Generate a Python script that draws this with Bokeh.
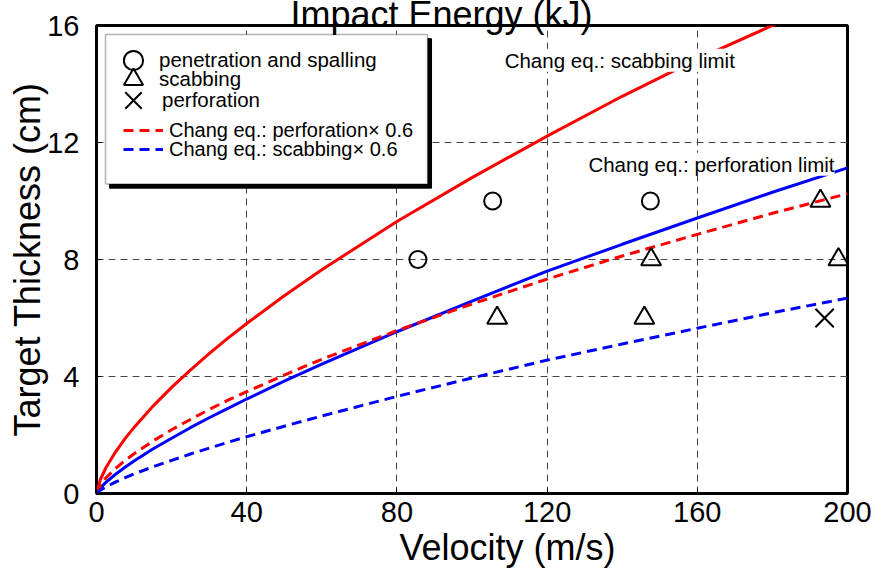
from bokeh.plotting import figure
from bokeh.models import (Range1d, SingleIntervalTicker, Legend, LegendItem,
                          Label, BoxAnnotation, ColumnDataSource, Title)
from bokeh.embed import file_html
from bokeh.resources import INLINE

# ---- data ----
velocity = [0, 1, 2.5, 5, 7.5, 10, 15, 20, 25, 30, 35, 40, 50, 60, 80, 100, 120, 140, 160, 180, 200]
scabbing_limit = [0, 0.47, 0.88, 1.41, 1.86, 2.26, 2.98, 3.63, 4.22, 4.78, 5.31, 5.81, 6.76, 7.65, 9.30, 10.80, 12.22, 13.58, 14.85, 16.0, 17.1]
scab_x06 = [0, 0.28, 0.53, 0.85, 1.12, 1.36, 1.79, 2.18, 2.53, 2.87, 3.19, 3.48, 4.05, 4.59, 5.57, 6.48, 7.33, 8.12, 8.86, 9.58, 10.25]
perforation_limit = [0, 0.19, 0.38, 0.65, 0.89, 1.11, 1.52, 1.89, 2.25, 2.59, 2.91, 3.23, 3.84, 4.42, 5.53, 6.58, 7.60, 8.52, 9.42, 10.30, 11.13]
perf_x06 = [0, 0.11, 0.23, 0.39, 0.53, 0.67, 0.91, 1.13, 1.35, 1.55, 1.75, 1.94, 2.30, 2.65, 3.32, 3.95, 4.56, 5.11, 5.65, 6.18, 6.68]

pen_v = [85.6, 105.5, 147.5]
pen_t = [8, 10, 10]
scab_v = [106.7, 145.9, 147.7, 192.8, 197.6]
scab_t = [6, 6, 8, 10, 8]
perf_v = [193.9]
perf_t = [6]

x_ticks_step = 40
y_ticks_step = 4

FONT = "Liberation Sans"

p = figure(width=874, height=571, output_backend="svg", toolbar_location=None,
           x_range=Range1d(0, 200), y_range=Range1d(0, 16),
           min_border_left=96, min_border_right=27, min_border_top=24, min_border_bottom=78,
           background_fill_color="white", border_fill_color="white")

p.outline_line_color = "black"
p.outline_line_width = 3

# chart title (top part falls outside the picture, as in the reference)
p.title.text = "Impact Energy (kJ)"
p.title.align = "left"
p.title.offset = 194
p.title.standoff = -18
p.title.text_font = FONT
p.title.text_font_size = "36px"
p.title.text_font_style = "normal"
p.title.text_color = "black"

for ax in (p.xaxis[0], p.yaxis[0]):
    ax.axis_line_color = None
    ax.major_tick_in = 5
    ax.major_tick_out = 0
    ax.minor_tick_line_color = None
    ax.major_tick_line_color = "black"
    ax.major_label_text_font = FONT
    ax.major_label_text_font_size = "29px"
    ax.major_label_text_color = "black"
    ax.axis_label_text_font = FONT
    ax.axis_label_text_font_size = "36px"
    ax.axis_label_text_font_style = "normal"
    ax.axis_label_text_color = "black"

p.xaxis[0].ticker = SingleIntervalTicker(interval=x_ticks_step)
p.yaxis[0].ticker = SingleIntervalTicker(interval=y_ticks_step)
p.yaxis[0].axis_label = "Target Thickness (cm)"
p.xaxis[0].major_label_standoff = 4
p.yaxis[0].major_label_standoff = 13
p.yaxis[0].axis_label_standoff = -4

# x axis title, placed below the axis like the reference (off-centre)
xtitle = Title(text="Velocity (m/s)", align="left", offset=303, standoff=0,
               text_font=FONT, text_font_size="36px", text_font_style="normal",
               text_color="black")
p.add_layout(xtitle, "below")

for g in (p.xgrid[0], p.ygrid[0]):
    g.grid_line_color = "#444444"
    g.grid_line_width = 1
    g.grid_line_dash = "7 5"
p.xgrid[0].ticker = SingleIntervalTicker(interval=x_ticks_step)
p.ygrid[0].ticker = SingleIntervalTicker(interval=y_ticks_step)

src = ColumnDataSource(dict(v=velocity, sl=scabbing_limit, s6=scab_x06,
                            pl=perforation_limit, p6=perf_x06))
r_sl = p.line("v", "sl", source=src, line_color="#ff0000", line_width=3)
r_pl = p.line("v", "pl", source=src, line_color="#0000ff", line_width=3)
r_s6 = p.line("v", "s6", source=src, line_color="#ff0000", line_width=3, line_dash="10 6")
r_p6 = p.line("v", "p6", source=src, line_color="#0000ff", line_width=3, line_dash="10 6")

r_pen = p.scatter(pen_v, pen_t, marker="circle", size=17, fill_alpha=0,
                  line_color="black", line_width=2)
r_scab = p.scatter(scab_v, scab_t, marker="triangle", size=20, fill_alpha=0,
                   line_color="black", line_width=2)
r_perf = p.scatter(perf_v, perf_t, marker="x", size=26, line_color="black", line_width=2)

# curve labels
lab1 = Label(x=108.7, y=14.81, text="Chang eq.: scabbing limit", text_font=FONT,
             text_font_size="20.5px", text_baseline="middle", text_color="black",
             background_fill_color="white")
lab2 = Label(x=131.0, y=11.26, text="Chang eq.: perforation limit", text_font=FONT,
             text_font_size="20.5px", text_baseline="middle", text_color="black",
             background_fill_color="white")
p.add_layout(lab1)
p.add_layout(lab2)

# legend frame with shadow
shadow = BoxAnnotation(left=3.47, right=89.22, top=15.55, bottom=10.44,
                       fill_color="black", fill_alpha=1, line_color="black", line_alpha=1)
box = BoxAnnotation(left=2.40, right=88.15, top=15.69, bottom=10.58,
                    fill_color="white", fill_alpha=1, line_color="black", line_width=1.5)
p.add_layout(shadow)
p.add_layout(box)


def marker_legend(label, renderer, loc, gw=52, gh=48, standoff=0):
    return Legend(items=[LegendItem(label=label, renderers=[renderer])],
                  location=loc, orientation="vertical",
                  glyph_width=gw, glyph_height=gh, label_height=gh, label_standoff=standoff,
                  spacing=0, padding=0, margin=0,
                  border_line_color=None, background_fill_alpha=0,
                  label_text_font=FONT, label_text_font_size="20.5px",
                  label_text_color="black")


def line_legend(label, renderer, loc):
    return Legend(items=[LegendItem(label=label, renderers=[renderer])],
                  location=loc, orientation="vertical",
                  glyph_width=40, glyph_height=24, label_height=24, label_standoff=6,
                  spacing=0, padding=0, margin=0,
                  border_line_color=None, background_fill_alpha=0,
                  label_text_font=FONT, label_text_font_size="20px",
                  label_text_color="black")


p.add_layout(marker_legend("penetration and spalling", r_pen, (11, 409.5)))
p.add_layout(marker_legend("scabbing", r_scab, (11, 390)))
p.add_layout(marker_legend("perforation", r_perf, (8, 364.5), gw=58, gh=58, standoff=0))
p.add_layout(line_legend("Chang eq.: perforation× 0.6", r_s6, (27, 351)))
p.add_layout(line_legend("Chang eq.: scabbing× 0.6", r_p6, (27, 331.7)))

open("out.html", "w").write(file_html(p, INLINE))
